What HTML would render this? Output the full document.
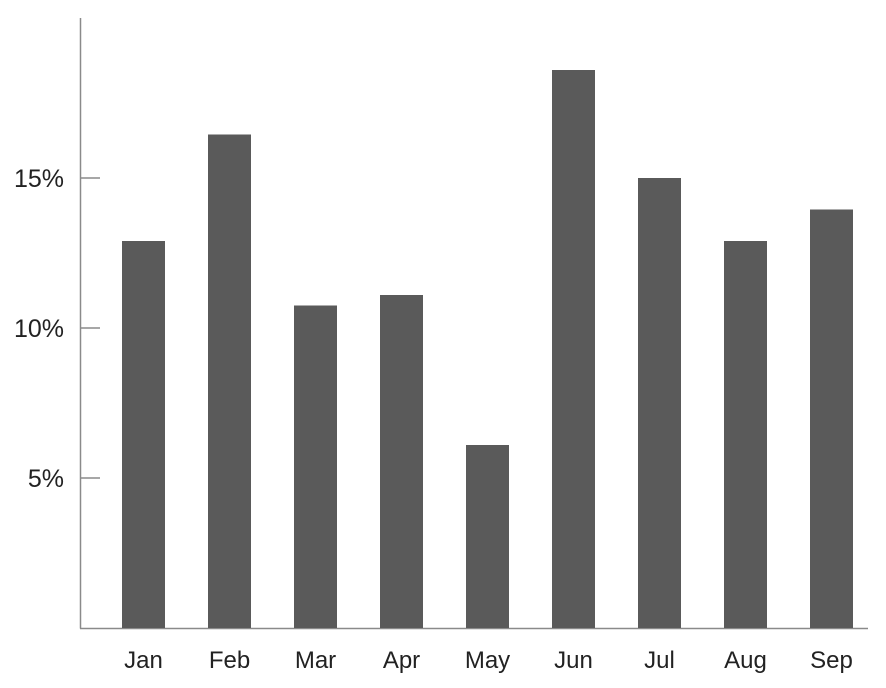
<!DOCTYPE html>
<html><head><meta charset="utf-8"><style>
html,body{margin:0;padding:0;background:#fff;}
svg{display:block;font-family:"Liberation Sans",Arial,sans-serif;}
</style></head><body>
<svg id="chart" width="886" height="688" viewBox="0 0 886 688" xmlns="http://www.w3.org/2000/svg"></svg>
<script>
const categories = ["Jan","Feb","Mar","Apr","May","Jun","Jul","Aug","Sep"];
const values = [12.9, 16.45, 10.75, 11.1, 6.1, 18.6, 15.0, 12.9, 13.95];
const tickValues = [5, 10, 15];
const tickLabels = ["5%", "10%", "15%"];

const NS = "http://www.w3.org/2000/svg";
const svg = document.getElementById("chart");
const x0 = 100.5, band = 86, barW = 43;
const yBase = 628, pxPerUnit = 30;
function xScale(i){ return x0 + band * i; }
function yScale(v){ return yBase - v * pxPerUnit; }
function mk(tag, attrs){ const e = document.createElementNS(NS, tag); for (const k in attrs) e.setAttribute(k, attrs[k]); svg.appendChild(e); return e; }

const yAxis = mk("line", {x1:80.5, y1:18, x2:80.5, y2:628.5, stroke:"#8a8a8a", "stroke-width":1.5});


const xAxis = mk("line", {x1:80, y1:628.5, x2:868, y2:628.5, stroke:"#8a8a8a", "stroke-width":1.5});



tickValues.forEach((v, i) => {
  const y = yScale(v);
  const t = mk("line", {x1:81, y1:y, x2:100, y2:y, stroke:"#8a8a8a", "stroke-width":1.5});
  
  
  const l = mk("text", {x:64, y:y + 9, "text-anchor":"end", "font-size":25, fill:"#222"});
  l.textContent = tickLabels[i];
  
  
});

categories.forEach((c, i) => {
  const xb = xScale(i) + (band - barW) / 2;
  const y = yScale(values[i]);
  const r = mk("rect", {x:xb, y:y, width:barW, height:yBase - y, fill:"#5a5a5a"});
  
  
  const l = mk("text", {x:xb + barW / 2, y:668, "text-anchor":"middle", "font-size":24, fill:"#222"});
  l.textContent = c;
  
  
});
</script>
</body></html>
